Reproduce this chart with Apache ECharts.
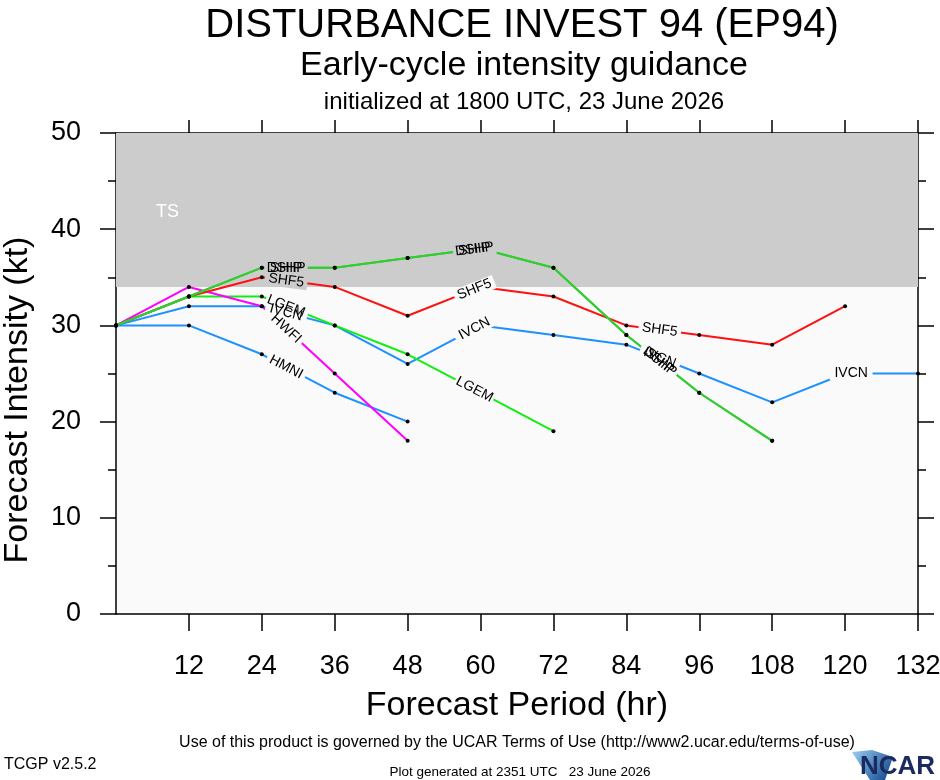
<!DOCTYPE html>
<html>
<head>
<meta charset="utf-8">
<script src="https://cdn.jsdelivr.net/npm/echarts@6/dist/echarts.min.js"></script>
<style>
html,body{margin:0;padding:0;background:#fff;}
#chart{width:940px;height:780px;}
</style>
</head>
<body>
<div id="chart"></div>
<script>
// ---- data ----
const hours = [0, 12, 24, 36, 48, 60, 72, 84, 96, 108, 120, 132];
const xTickLabels = [12, 24, 36, 48, 60, 72, 84, 96, 108, 120, 132];
const yTicks = [0, 10, 20, 30, 40, 50];
const SHIP = [30, 33, 36, 36, 37, 38, 36, 29, 23, 18];
const DSHP = [30, 33, 36, 36, 37, 38, 36, 29, 23, 18];
const SHF5 = [30, 33, 35, 34, 31, 34, 33, 30, 29, 28, 32];
const LGEM = [30, 33, 33, 30, 27, 23, 19];
const IVCN = [30, 32, 32, 30, 26, 30, 29, 28, 25, 22, 25, 25];
const HMNI = [30, 30, 27, 23, 20];
const HWFI = [30, 34, 32, 25, 18];
const tsThreshold = 34;
const labelHours = [28, 59, 89.5, 121];

const models = [
  {name: 'HMNI', vals: HMNI, color: '#1e90ff'},
  {name: 'IVCN', vals: IVCN, color: '#1e90ff'},
  {name: 'LGEM', vals: LGEM, color: '#11ee11'},
  {name: 'HWFI', vals: HWFI, color: '#ff00ff'},
  {name: 'SHF5', vals: SHF5, color: '#ff1010'},
  {name: 'SHIP', vals: SHIP, color: '#33cc33'},
  {name: 'DSHP', vals: DSHP, color: '#33cc33'}
];

// label positions derived from the data (linear interpolation along each line)
const labelInfo = [];
models.forEach(m => {
  const last = hours[m.vals.length - 1];
  labelHours.forEach(h => {
    if (h >= last) return;
    const i = Math.floor(h / 12);
    const h1 = hours[i], h2 = hours[i + 1];
    const v1 = m.vals[i], v2 = m.vals[i + 1];
    const v = v1 + (v2 - v1) * (h - h1) / (h2 - h1);
    labelInfo.push({name: m.name, h, v, h1, v1, h2, v2});
  });
});

const chart = echarts.init(document.getElementById('chart'), null, {renderer: 'canvas'});
const SANS = '"Liberation Sans", Arial, Helvetica, sans-serif';

function segGeom(info, api) {
  const p = api.coord([info.h, info.v]);
  const a = api.coord([info.h1, info.v1]);
  const b = api.coord([info.h2, info.v2]);
  const rot = -Math.atan2(b[1] - a[1], b[0] - a[0]);
  return {p, rot};
}

const series = [];
series.push({
  type: 'line', data: [[0, 30]], symbol: 'none', silent: true, z: 1,
  lineStyle: {opacity: 0},
  markArea: {
    silent: true,
    itemStyle: {color: '#cccccc', opacity: 1},
    label: {show: true, position: [40, 70], color: '#ffffff', fontSize: 18, fontFamily: SANS},
    data: [[{yAxis: tsThreshold, name: 'TS'}, {yAxis: 50}]]
  }
});
models.forEach(m => {
  series.push({
    name: m.name, type: 'line', z: 2,
    data: m.vals.map((v, i) => [hours[i], v]),
    symbol: 'circle', symbolSize: 4, showSymbol: true,
    itemStyle: {color: '#000'},
    lineStyle: {color: m.color, width: 2},
    emphasis: {disabled: true},
    animation: false
  });
});
series.push({
  type: 'custom', z: 3, silent: true, animation: false,
  coordinateSystem: 'cartesian2d',
  data: labelInfo.map(l => [l.h, l.v]),
  encode: {x: 0, y: 1},
  renderItem: function (params, api) {
    const info = labelInfo[params.dataIndex];
    const g = segGeom(info, api);
    const w = info.name.length * 9.2 + 6, hgt = 14;
    return {
      type: 'rect', x: g.p[0], y: g.p[1], rotation: g.rot,
      shape: {x: -w / 2, y: -hgt / 2, width: w, height: hgt},
      style: {fill: info.v >= tsThreshold ? '#cccccc' : '#fafafa'}
    };
  }
});
series.push({
  type: 'custom', z: 4, silent: true, animation: false,
  coordinateSystem: 'cartesian2d',
  data: labelInfo.map(l => [l.h, l.v]),
  encode: {x: 0, y: 1},
  renderItem: function (params, api) {
    const info = labelInfo[params.dataIndex];
    const g = segGeom(info, api);
    return {
      type: 'text', x: g.p[0], y: g.p[1], rotation: g.rot,
      style: {text: info.name, fill: '#000', fontSize: 14, fontFamily: SANS,
        align: 'center', verticalAlign: 'middle'}
    };
  }
});

const axisLine = {show: true, onZero: false, lineStyle: {color: '#000', width: 1.5}};
const tickStyle = {color: '#000', width: 1.5};

chart.setOption({
  animation: false,
  backgroundColor: '#ffffff',
  title: [
    {text: 'DISTURBANCE INVEST 94 (EP94)', left: 517, top: 1, textAlign: 'center',
      textStyle: {fontFamily: SANS, fontSize: 40, fontWeight: 'normal', color: '#000'}},
    {text: 'Early-cycle intensity guidance', left: 519, top: 44, textAlign: 'center',
      textStyle: {fontFamily: SANS, fontSize: 34, fontWeight: 'normal', color: '#000'}},
    {text: 'initialized at 1800 UTC, 23 June 2026', left: 519, top: 85, textAlign: 'center',
      textStyle: {fontFamily: SANS, fontSize: 24, fontWeight: 'normal', color: '#000'}}
  ],
  grid: {left: 116, right: 22, top: 133, bottom: 166, show: true, backgroundColor: '#fafafa', borderWidth: 0,
    containLabel: false, outerBoundsMode: 'none'},
  xAxis: [
    {type: 'value', min: 0, max: 132, interval: 12, position: 'bottom',
      axisLine, splitLine: {show: false},
      axisTick: {show: true, length: 17, lineStyle: tickStyle, customValues: xTickLabels},
      axisLabel: {show: true, fontSize: 27, color: '#000', fontFamily: SANS, margin: 39, customValues: xTickLabels}},
    {type: 'value', min: 0, max: 132, interval: 12, position: 'top',
      axisLine, splitLine: {show: false},
      axisTick: {show: true, length: 13, lineStyle: tickStyle, customValues: xTickLabels},
      axisLabel: {show: false}}
  ],
  yAxis: [
    {type: 'value', min: 0, max: 50, interval: 10, position: 'left',
      axisLine, splitLine: {show: false},
      axisTick: {show: true, length: 16, lineStyle: tickStyle},
      minorTick: {show: true, splitNumber: 2, length: 8, lineStyle: tickStyle},
      axisLabel: {show: true, fontSize: 27, color: '#000', fontFamily: SANS, margin: 35, customValues: yTicks}},
    {type: 'value', min: 0, max: 50, interval: 10, position: 'right',
      axisLine, splitLine: {show: false},
      axisTick: {show: true, length: 16, lineStyle: tickStyle},
      minorTick: {show: true, splitNumber: 2, length: 8, lineStyle: tickStyle},
      axisLabel: {show: false}}
  ],
  series: series,
  graphic: [
    {type: 'text', x: 18, y: 400, rotation: Math.PI / 2,
      style: {text: 'Forecast Intensity (kt)', fontSize: 34, fontFamily: SANS, fill: '#000', align: 'center', verticalAlign: 'middle'}},
    {type: 'text', x: 517, y: 706,
      style: {text: 'Forecast Period (hr)', fontSize: 34, fontFamily: SANS, fill: '#000', align: 'center', verticalAlign: 'middle'}},
    {type: 'text', x: 517, y: 743,
      style: {text: 'Use of this product is governed by the UCAR Terms of Use (http://www2.ucar.edu/terms-of-use)', fontSize: 16, fontFamily: SANS, fill: '#000', align: 'center', verticalAlign: 'middle'}},
    {type: 'text', x: 4, y: 765,
      style: {text: 'TCGP v2.5.2', fontSize: 16, fontFamily: SANS, fill: '#000', align: 'left', verticalAlign: 'middle'}},
    {type: 'text', x: 520, y: 772,
      style: {text: 'Plot generated at 2351 UTC   23 June 2026', fontSize: 13.5, fontFamily: SANS, fill: '#000', align: 'center', verticalAlign: 'middle'}},
    {type: 'polygon', shape: {points: [[852, 752], [872, 750], [893, 757], [885, 780], [870, 780]]},
      style: {fill: new echarts.graphic.LinearGradient(0, 0, 1, 1, [{offset: 0, color: '#9ad0f5'}, {offset: 1, color: '#0b3f8a'}])}},
    {type: 'text', x: 935, y: 767,
      style: {text: 'NCAR', fontSize: 26, fontFamily: SANS, fontWeight: 'bold', fill: '#1b2b5e', align: 'right', verticalAlign: 'middle'}}
  ]
});
</script>
</body>
</html>
